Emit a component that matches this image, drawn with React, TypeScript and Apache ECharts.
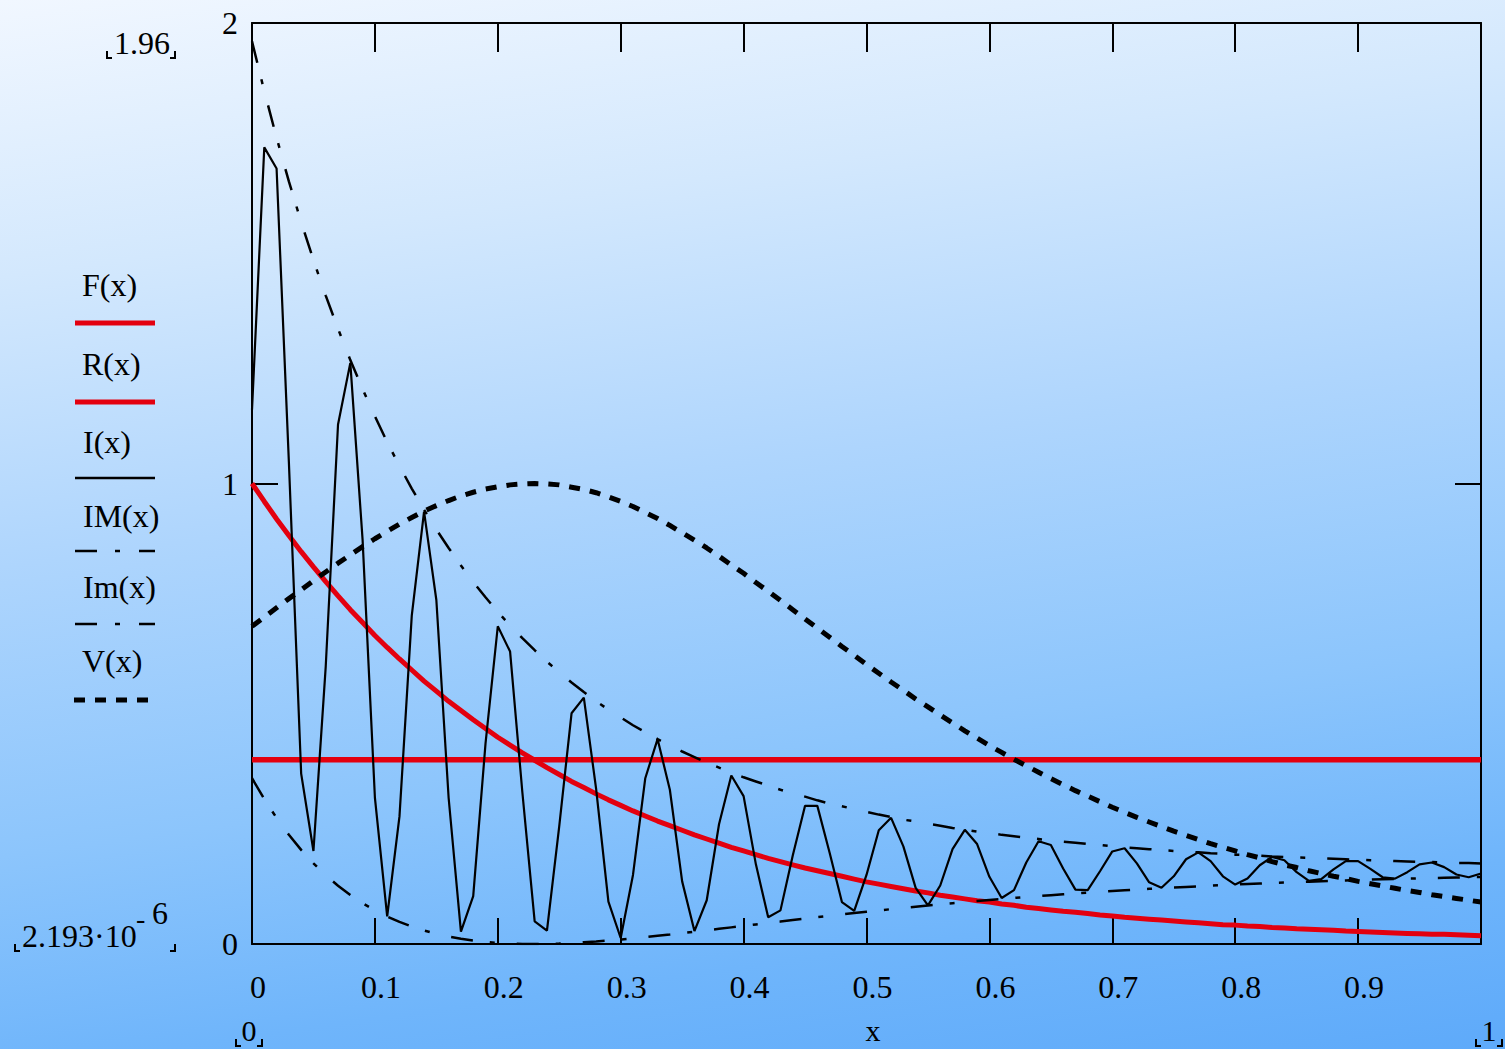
import React, { useEffect, useRef } from "react";
import * as echarts from "echarts";

// sampling step of every curve along x (0 .. 1)
const X_STEP = 0.01;
const X_MIN = 0;
const X_MAX = 1;

const F_VALUES = [
  1.0, 0.961, 0.923, 0.887, 0.852, 0.819, 0.787, 0.756, 0.726, 0.698,
  0.67, 0.644, 0.619, 0.595, 0.571, 0.549, 0.527, 0.507, 0.487, 0.468,
  0.449, 0.432, 0.415, 0.399, 0.383, 0.368, 0.353, 0.34, 0.326, 0.313,
  0.301, 0.289, 0.278, 0.267, 0.257, 0.247, 0.237, 0.228, 0.219, 0.21,
  0.202, 0.194, 0.186, 0.179, 0.172, 0.165, 0.159, 0.153, 0.147, 0.141,
  0.135, 0.13, 0.125, 0.12, 0.115, 0.111, 0.106, 0.102, 0.098, 0.094,
  0.091, 0.087, 0.084, 0.08, 0.077, 0.074, 0.071, 0.069, 0.066, 0.063,
  0.061, 0.058, 0.056, 0.054, 0.052, 0.05, 0.048, 0.046, 0.044, 0.042,
  0.041, 0.039, 0.038, 0.036, 0.035, 0.033, 0.032, 0.031, 0.03, 0.028,
  0.027, 0.026, 0.025, 0.024, 0.023, 0.022, 0.021, 0.021, 0.02, 0.019,
  0.018,
];

const R_LEVEL = 0.4;

const I_VALUES = [
  1.16, 1.73, 1.684, 1.047, 0.37, 0.202, 0.603, 1.128, 1.262, 0.877,
  0.318, 0.06, 0.277, 0.713, 0.939, 0.747, 0.317, 0.027, 0.104, 0.435,
  0.69, 0.635, 0.329, 0.049, 0.029, 0.256, 0.501, 0.535, 0.337, 0.092,
  0.013, 0.15, 0.36, 0.445, 0.335, 0.136, 0.028, 0.095, 0.26, 0.366,
  0.321, 0.173, 0.058, 0.073, 0.192, 0.3, 0.3, 0.198, 0.091, 0.072,
  0.15, 0.247, 0.274, 0.212, 0.122, 0.084, 0.127, 0.206, 0.248, 0.217,
  0.146, 0.1, 0.117, 0.177, 0.223, 0.215, 0.164, 0.118, 0.117, 0.158,
  0.201, 0.208, 0.175, 0.134, 0.122, 0.147, 0.184, 0.199, 0.18, 0.147,
  0.129, 0.142, 0.171, 0.189, 0.182, 0.156, 0.137, 0.141, 0.162, 0.18,
  0.18, 0.163, 0.145, 0.142, 0.156, 0.173, 0.177, 0.167, 0.151, 0.145,
  0.153,
];

const IM_VALUES = [
  1.96, 1.852, 1.751, 1.656, 1.568, 1.485, 1.408, 1.336, 1.268, 1.205,
  1.146, 1.09, 1.038, 0.989, 0.943, 0.9, 0.86, 0.822, 0.786, 0.753,
  0.721, 0.692, 0.664, 0.638, 0.613, 0.59, 0.568, 0.547, 0.527, 0.509,
  0.492, 0.475, 0.46, 0.445, 0.431, 0.418, 0.406, 0.394, 0.383, 0.372,
  0.362, 0.353, 0.344, 0.335, 0.327, 0.32, 0.312, 0.305, 0.299, 0.293,
  0.287, 0.281, 0.276, 0.27, 0.266, 0.261, 0.257, 0.252, 0.248, 0.244,
  0.241, 0.237, 0.234, 0.231, 0.228, 0.225, 0.222, 0.22, 0.217, 0.215,
  0.212, 0.21, 0.208, 0.206, 0.204, 0.202, 0.201, 0.199, 0.197, 0.196,
  0.194, 0.193, 0.192, 0.19, 0.189, 0.188, 0.187, 0.186, 0.185, 0.184,
  0.183, 0.182, 0.181, 0.18, 0.179, 0.178, 0.178, 0.177, 0.176, 0.176,
  0.175,
];

const IMIN_VALUES = [
  0.36, 0.3145, 0.2737, 0.2371, 0.2044, 0.1753, 0.1495, 0.1266, 0.1064, 0.0886,
  0.0731, 0.0596, 0.0479, 0.0378, 0.0293, 0.0221, 0.0162, 0.0114, 0.0075, 0.0046,
  0.0024, 0.001, 0.0002, 0.0, 0.0003, 0.001, 0.0022, 0.0037, 0.0054, 0.0075,
  0.0098, 0.0122, 0.0149, 0.0177, 0.0205, 0.0235, 0.0266, 0.0297, 0.0329, 0.0361,
  0.0392, 0.0425, 0.0456, 0.0488, 0.052, 0.0551, 0.0582, 0.0612, 0.0642, 0.0672,
  0.0701, 0.0729, 0.0757, 0.0784, 0.081, 0.0836, 0.0862, 0.0886, 0.091, 0.0934,
  0.0957, 0.0979, 0.1, 0.1021, 0.1041, 0.1061, 0.108, 0.1099, 0.1116, 0.1134,
  0.1151, 0.1167, 0.1182, 0.1198, 0.1212, 0.1227, 0.124, 0.1253, 0.1266, 0.1279,
  0.1291, 0.1302, 0.1313, 0.1324, 0.1334, 0.1344, 0.1354, 0.1363, 0.1372, 0.1381,
  0.1389, 0.1397, 0.1405, 0.1412, 0.1419, 0.1426, 0.1433, 0.1439, 0.1445, 0.1451,
  0.1457,
];

const V_VALUES = [
  0.69, 0.71, 0.73, 0.75, 0.769, 0.789, 0.808, 0.827, 0.845, 0.863,
  0.88, 0.896, 0.912, 0.926, 0.94, 0.952, 0.963, 0.973, 0.981, 0.988,
  0.993, 0.997, 0.999, 1.0, 0.999, 0.997, 0.992, 0.987, 0.98, 0.971,
  0.961, 0.95, 0.937, 0.924, 0.909, 0.893, 0.877, 0.86, 0.842, 0.823,
  0.805, 0.785, 0.766, 0.746, 0.726, 0.706, 0.686, 0.666, 0.646, 0.627,
  0.607, 0.588, 0.569, 0.551, 0.532, 0.515, 0.497, 0.48, 0.463, 0.447,
  0.431, 0.416, 0.401, 0.387, 0.373, 0.359, 0.346, 0.333, 0.321, 0.309,
  0.297, 0.286, 0.275, 0.265, 0.255, 0.245, 0.236, 0.227, 0.218, 0.21,
  0.202, 0.194, 0.187, 0.179, 0.172, 0.166, 0.159, 0.153, 0.147, 0.142,
  0.136, 0.131, 0.126, 0.121, 0.116, 0.112, 0.107, 0.103, 0.099, 0.095,
  0.091,
];

const X_TICK_LABELS = ["0", "0.1", "0.2", "0.3", "0.4", "0.5", "0.6", "0.7", "0.8", "0.9"];
const Y_TICK_LABELS = ["0", "1", "2"];
const LEGEND_NAMES = ["F(x)", "R(x)", "I(x)", "IM(x)", "Im(x)", "V(x)"];

const RED = "#e3000f";
const BLACK = "#000000";
const FONT = '"Liberation Serif", "Times New Roman", serif';
const DASH_DOT = [22, 17, 5, 22];
const DOTS = [11, 10];

const toData = (arr: number[]) => arr.map((v, i) => [i * X_STEP, v]);

function bracket(x: number, y: number, side: "l" | "r") {
  const pts =
    side === "l"
      ? [[x, y - 7], [x, y], [x + 5, y]]
      : [[x - 5, y], [x, y], [x, y - 7]];
  return {
    type: "polyline",
    shape: { points: pts },
    style: { stroke: BLACK, lineWidth: 2, fill: null },
    silent: true,
  };
}

function txt(text: string, x: number, y: number, align = "left", size = 32) {
  return {
    type: "text",
    x,
    y,
    silent: true,
    style: {
      text,
      fill: BLACK,
      font: `${size}px ${FONT}`,
      align,
      verticalAlign: "middle",
    },
  };
}

function legendLine(y: number, color: string, width: number, dash?: number[], x1 = 75, x2 = 155) {
  return {
    type: "line",
    shape: { x1, y1: y, x2, y2: y },
    silent: true,
    style: { stroke: color, lineWidth: width, lineDash: dash || null },
  };
}

export default function App() {
  const ref = useRef<HTMLDivElement>(null);

  useEffect(() => {
    if (!ref.current) return;
    const chart = echarts.init(ref.current, undefined, { renderer: "svg" });

    const axisLine = { show: true, onZero: false, lineStyle: { color: BLACK, width: 2 } };

    const option: any = {
      animation: false,
      backgroundColor: "transparent",
      grid: { left: 252, right: 24, top: 17, bottom: 105, containLabel: false },
      xAxis: [
        {
          type: "value",
          position: "bottom",
          min: X_MIN,
          max: X_MAX,
          interval: 0.1,
          axisLine,
          axisTick: { show: true, inside: true, length: 26, lineStyle: { color: BLACK, width: 2 } },
          splitLine: { show: false },
          axisLabel: {
            show: true,
            margin: 27,
            color: BLACK,
            fontFamily: FONT,
            fontSize: 32,
            lineHeight: 32,
            padding: [0, 0, 0, 12],
            formatter: (v: number) => {
              const k = Math.round(v * 10);
              return k < X_TICK_LABELS.length ? X_TICK_LABELS[k] : "";
            },
          },
        },
        {
          type: "value",
          position: "top",
          min: X_MIN,
          max: X_MAX,
          interval: 0.1,
          axisLine,
          axisTick: { show: true, inside: true, length: 29, lineStyle: { color: BLACK, width: 2 } },
          splitLine: { show: false },
          axisLabel: { show: false },
        },
      ],
      yAxis: [
        {
          type: "value",
          position: "left",
          min: 0,
          max: 2,
          interval: 1,
          axisLine,
          axisTick: { show: true, inside: true, length: 26, lineStyle: { color: BLACK, width: 2 } },
          splitLine: { show: false },
          axisLabel: {
            show: true,
            margin: 14,
            color: BLACK,
            fontFamily: FONT,
            fontSize: 32,
            lineHeight: 32,
            padding: [14, 0, 0, 0],
            formatter: (v: number) => Y_TICK_LABELS[Math.round(v)] ?? "",
          },
        },
        {
          type: "value",
          position: "right",
          min: 0,
          max: 2,
          interval: 1,
          axisLine,
          axisTick: { show: true, inside: true, length: 26, lineStyle: { color: BLACK, width: 2 } },
          splitLine: { show: false },
          axisLabel: { show: false },
        },
      ],
      series: [
        {
          name: LEGEND_NAMES[0],
          type: "line",
          data: toData(F_VALUES),
          symbol: "none",
          silent: true,
          lineStyle: { color: RED, width: 5 },
          z: 2,
        },
        {
          name: LEGEND_NAMES[1],
          type: "line",
          data: [
            [X_MIN, R_LEVEL],
            [X_MAX, R_LEVEL],
          ],
          symbol: "none",
          silent: true,
          lineStyle: { color: RED, width: 5.5 },
          z: 2,
        },
        {
          name: LEGEND_NAMES[2],
          type: "line",
          data: toData(I_VALUES),
          symbol: "none",
          silent: true,
          lineStyle: { color: BLACK, width: 2.2 },
          z: 3,
        },
        {
          name: LEGEND_NAMES[3],
          type: "line",
          data: toData(IM_VALUES),
          symbol: "none",
          silent: true,
          lineStyle: { color: BLACK, width: 2.5, type: DASH_DOT },
          z: 3,
        },
        {
          name: LEGEND_NAMES[4],
          type: "line",
          data: toData(IMIN_VALUES),
          symbol: "none",
          silent: true,
          lineStyle: { color: BLACK, width: 2.5, type: DASH_DOT },
          z: 3,
        },
        {
          name: LEGEND_NAMES[5],
          type: "line",
          data: toData(V_VALUES),
          symbol: "none",
          silent: true,
          lineStyle: { color: BLACK, width: 5, type: DOTS },
          z: 4,
        },
      ],
      graphic: {
        elements: [
          // legend
          txt(LEGEND_NAMES[0], 82, 285),
          legendLine(323, RED, 5),
          txt(LEGEND_NAMES[1], 82, 364),
          legendLine(402, RED, 5),
          txt(LEGEND_NAMES[2], 83, 442),
          legendLine(478, BLACK, 2.5),
          txt(LEGEND_NAMES[3], 83, 516),
          legendLine(551, BLACK, 2.5, [22, 18, 5, 19]),
          txt(LEGEND_NAMES[4], 83, 587),
          legendLine(624, BLACK, 2.5, [22, 18, 5, 19]),
          txt(LEGEND_NAMES[5], 82, 661),
          legendLine(700, BLACK, 5, DOTS, 74, 150),
          // y range markers
          txt("1.96", 114, 43),
          bracket(107, 58, "l"),
          bracket(175, 58, "r"),
          txt("2.193·10", 22, 936),
          txt("-", 136, 918, "left", 28),
          txt("6", 152, 913),
          bracket(15, 951, "l"),
          bracket(175, 951, "r"),
          // x range markers
          txt("0", 249, 1030, "center", 30),
          bracket(236, 1046, "l"),
          bracket(262, 1046, "r"),
          txt("x", 873, 1030, "center", 30),
          txt("1", 1489, 1030, "center", 30),
          bracket(1476, 1046, "l"),
          bracket(1502, 1046, "r"),
        ],
      },
    };

    chart.setOption(option);
    return () => chart.dispose();
  }, []);

  return (
    <div
      ref={ref}
      style={{
        position: "absolute",
        left: 0,
        top: 0,
        width: 1505,
        height: 1049,
        background:
          "linear-gradient(172deg, #f1f7ff 0%, #d3e8fd 22%, #aed5fd 45%, #8cc5fc 68%, #6fb5fb 85%, #5eaafa 100%)",
      }}
    />
  );
}
